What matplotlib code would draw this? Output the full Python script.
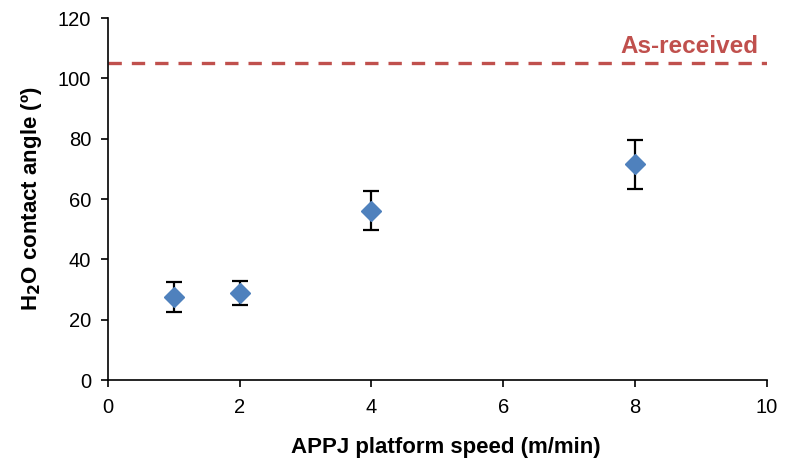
import matplotlib
matplotlib.use("Agg")
import matplotlib.pyplot as plt

plt.rcParams['font.family'] = ['Liberation Sans', 'DejaVu Sans']

# ---- data ----
speed = [1, 2, 4, 8]
angle = [27.5, 29.0, 56.2, 71.5]
err = [5.0, 4.0, 6.5, 8.0]
as_received = 105

fig = plt.figure(figsize=(7.85, 4.63), dpi=100)
ax = fig.add_axes([0.1376, 0.179, 0.839, 0.782])

ax.errorbar(speed, angle, yerr=err, fmt="D", color="#4F81BD", ms=10,
            ecolor="black", elinewidth=1.6, capsize=5.5, capthick=1.6, zorder=3)
ax.axhline(as_received, color="#C0504D", ls=(0, (4, 3)), lw=2.4)
ax.text(9.88, as_received + 1.8, "As-received", color="#C0504D", fontsize=17.5,
        fontweight="bold", ha="right", va="bottom")

ax.set_xlim(0, 10)
ax.set_ylim(0, 120)
ax.set_xticks(range(0, 11, 2))
ax.set_yticks(range(0, 121, 20))
ax.tick_params(labelsize=14.5, direction="out", length=5, width=1.2, color="black")
ax.tick_params(axis="x", pad=8)
ax.tick_params(axis="y", pad=7)
for s in ["top", "right"]:
    ax.spines[s].set_visible(False)
for s in ["left", "bottom"]:
    ax.spines[s].set_color("black")
    ax.spines[s].set_linewidth(1.2)

ax.set_xlabel("APPJ platform speed (m/min)", fontsize=16, fontweight="bold", labelpad=14, x=0.513)
ax.set_ylabel("H$_\\mathbf{2}$O contact angle (º)", fontsize=16, fontweight="bold", labelpad=10)

fig.savefig("out.png", dpi=100)
